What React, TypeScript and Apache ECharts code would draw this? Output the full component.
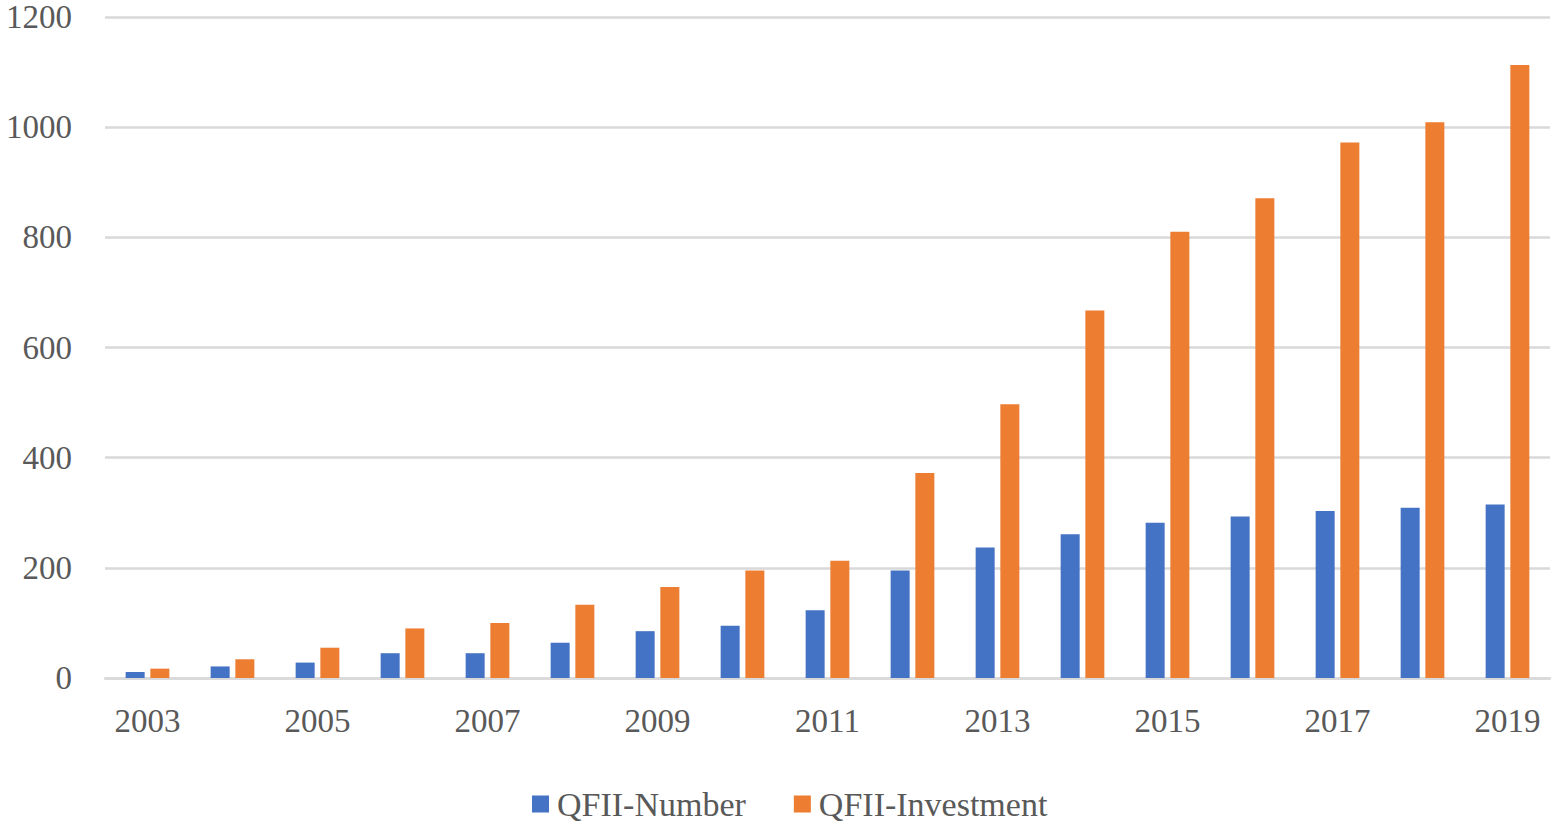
import React, { useEffect, useRef } from "react";
import * as echarts from "echarts";

const years = ["2003","2004","2005","2006","2007","2008","2009","2010","2011","2012","2013","2014","2015","2016","2017","2018","2019"];
const qfiiNumber = [11, 21, 28, 45, 45, 64, 85, 95, 123, 195, 237, 261, 282, 293, 303, 309, 315];
const qfiiInvestment = [17, 34, 55, 90, 100, 133, 165, 195, 213, 372, 497, 667, 810, 871, 972, 1009, 1113];
const seriesNames = ["QFII-Number", "QFII-Investment"];

const FONT = "'Liberation Serif', 'Times New Roman', serif";
const TEXT = "#595959";

export default function App() {
  const ref = useRef<HTMLDivElement>(null);
  useEffect(() => {
    if (!ref.current) return;
    const chart = echarts.init(ref.current, null, { renderer: "svg" });
    chart.setOption({
      animation: false,
      backgroundColor: "#ffffff",
      textStyle: { fontFamily: FONT },
      grid: { left: 105, right: 9, top: 17, bottom: 143, containLabel: false },
      legend: {
        left: 527,
        top: 782,
        icon: "rect",
        itemWidth: 17,
        itemHeight: 17,
        itemGap: 48,
        textStyle: { fontFamily: FONT, fontSize: 34, lineHeight: 34, color: TEXT, padding: [0, 0, 0, 3] },
        data: seriesNames,
      },
      xAxis: {
        type: "category",
        data: years,
        axisLine: { show: true, lineStyle: { color: "#d9d9d9", width: 2.5 } },
        axisTick: { show: false },
        axisLabel: { interval: 1, fontFamily: FONT, fontSize: 33, color: TEXT, margin: 26 },
      },
      yAxis: {
        type: "value",
        min: 0,
        max: 1200,
        interval: 200,
        axisLine: { show: false },
        axisTick: { show: false },
        splitLine: { lineStyle: { color: "#d9d9d9", width: 2.5 } },
        axisLabel: {
          fontFamily: FONT,
          fontSize: 33,
          color: TEXT,
          margin: 33,
          formatter: (v: number) => String(v),
        },
      },
      series: [
        {
          name: seriesNames[0],
          type: "bar",
          data: qfiiNumber,
          barWidth: 19,
          barGap: "30%",
          itemStyle: { color: "#4472C4" },
        },
        {
          name: seriesNames[1],
          type: "bar",
          data: qfiiInvestment,
          barWidth: 19,
          barGap: "30%",
          itemStyle: { color: "#ED7D31" },
        },
      ],
    });
    return () => chart.dispose();
  }, []);
  return (
    <div
      ref={ref}
      style={{ position: "fixed", left: 0, top: 0, width: 1559, height: 821, background: "#fff" }}
    />
  );
}
